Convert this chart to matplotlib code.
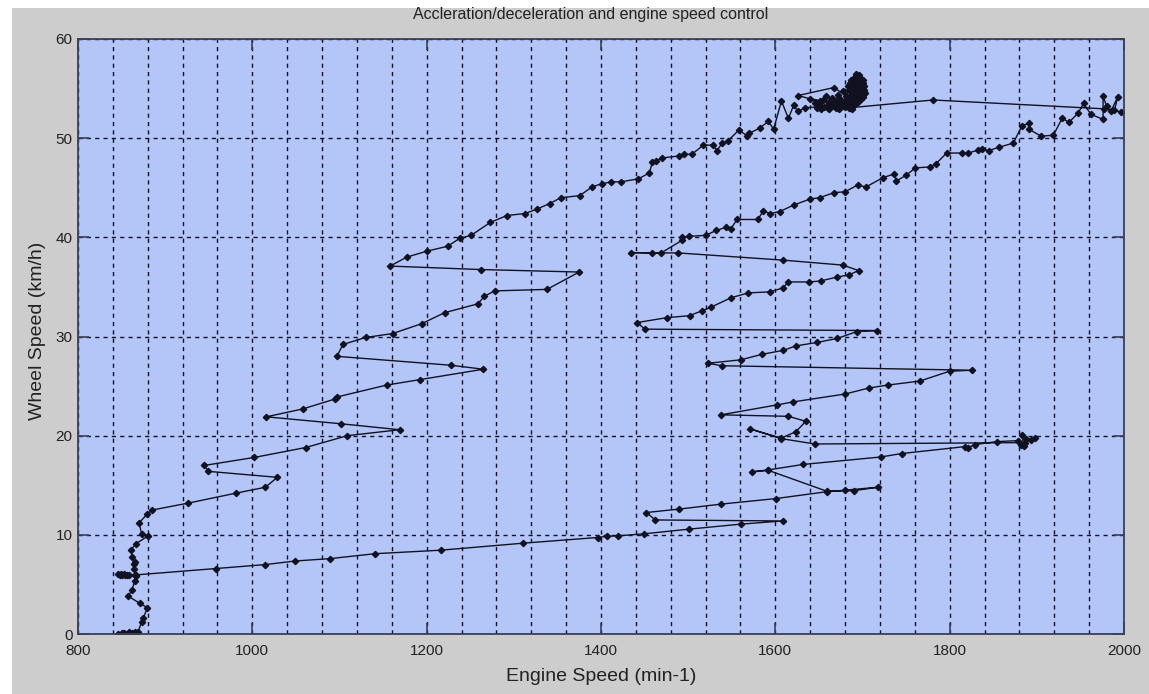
import matplotlib
matplotlib.use("Agg")
import matplotlib.pyplot as plt
from matplotlib.patches import Rectangle
from matplotlib.ticker import MultipleLocator

# launch: idle at standstill, clutch take-up, creep at ~6 km/h
launch_rpm = [846, 850, 853, 856, 859, 862, 865, 868, 869, 873, 875, 879.5, 871, 857.7,
              861.6, 865, 866.5, 858, 854, 851, 848, 846, 849, 853, 856, 865]
launch_kmh = [0.05, 0.1, 0.15, 0.05, 0.2, 0.1, 0.2, 0.15, 0.25, 1.2, 1.6, 2.65, 3.1, 3.8,
              4.4, 5.3, 5.8, 5.95, 5.95, 6.0, 5.95, 6.05, 6.1, 6.05, 6.0, 5.95]

# acceleration through the gears with upshifts
accel_rpm = [958, 1015, 1049, 1089, 1141, 1216, 1311, 1396, 1407, 1420, 1449, 1500.6, 1560.6, 1608.7,
             1462.4, 1452, 1490, 1538, 1601, 1659, 1680, 1717.6, 1690, 1659,
             1592, 1573, 1592, 1632, 1721, 1745, 1818, 1821, 1829, 1854, 1878, 1882, 1885, 1883,
             1888, 1893, 1898, 1886,
             1645.6, 1606.7, 1570.4, 1606.7, 1623.6, 1635, 1615, 1537.5, 1601.8, 1620, 1680, 1707,
             1728.7, 1765.4, 1800, 1825.5,
             1538.7, 1522.6, 1560.5, 1584.5, 1609, 1623.5, 1647.6, 1671, 1693.5, 1716.5,
             1450.7, 1441, 1475.6, 1501.6, 1516, 1526, 1549, 1569, 1594, 1608.6, 1615, 1639, 1652,
             1671, 1684, 1695.5,
             1677.5, 1609, 1488, 1458, 1434, 1469, 1493, 1493, 1501, 1520, 1532.5, 1543, 1548.6,
             1556, 1580, 1586, 1594, 1605, 1621, 1640, 1651, 1667, 1680, 1695, 1703.6, 1723, 1736.5,
             1739, 1750, 1760.5, 1777, 1784, 1796.6, 1814, 1821, 1833, 1837, 1845, 1857, 1873, 1883,
             1891, 1891, 1905, 1919, 1929, 1937, 1947.5, 1953.6, 1962, 1976, 1976, 1980, 1985, 1993,
             1989, 1996, 1977, 1781, 1686]
accel_kmh = [6.6, 7.0, 7.36, 7.6, 8.1, 8.45, 9.16, 9.73, 9.85, 9.9, 10.1, 10.57, 11.08, 11.4,
             11.5, 12.25, 12.6, 13.1, 13.66, 14.35, 14.5, 14.8, 14.45, 14.4,
             16.5, 16.35, 16.55, 17.1, 17.85, 18.2, 18.9, 18.8, 19.1, 19.4, 19.5, 19.1, 18.95, 20.1,
             19.7, 19.6, 19.8, 19.3,
             19.16, 19.7, 20.7, 19.75, 20.4, 21.45, 21.95, 22.1, 23.1, 23.4, 24.2, 24.8,
             25.1, 25.5, 26.5, 26.6,
             27.05, 27.3, 27.65, 28.2, 28.6, 29.05, 29.4, 29.8, 30.5, 30.6,
             30.74, 31.4, 31.9, 32.1, 32.6, 32.95, 33.9, 34.4, 34.5, 34.9, 35.5, 35.5, 35.6,
             36.0, 36.2, 36.65,
             37.2, 37.7, 38.43, 38.43, 38.46, 38.43, 39.7, 40.0, 40.1, 40.2, 40.7, 41.0, 40.8,
             41.8, 41.8, 42.65, 42.4, 42.6, 43.25, 43.87, 44.0, 44.5, 44.6, 45.3, 45.06, 46.0, 46.4,
             45.7, 46.25, 47.0, 47.1, 47.4, 48.5, 48.5, 48.5, 48.8, 48.9, 48.75, 49.1, 49.5, 51.26,
             51.5, 50.9, 50.2, 50.3, 52.0, 51.6, 52.55, 53.5, 52.4, 51.9, 54.26, 53.2, 52.7, 54.2,
             52.8, 52.65, 52.96, 53.85, 53.07]

# cruising around 1690 rpm / 54 km/h
cruise_rpm = [1640, 1650, 1655, 1648, 1660, 1665, 1670, 1662, 1675, 1672, 1680, 1685, 1678, 1688,
              1683, 1690, 1693, 1696, 1699, 1702, 1697, 1692, 1687, 1694, 1700, 1695, 1689, 1685,
              1698, 1691, 1686, 1681, 1667, 1626, 1651, 1676, 1668, 1658, 1652, 1645, 1663, 1673,
              1684, 1690, 1696, 1701, 1693, 1688,
              1692, 1697, 1701, 1699, 1694, 1689, 1686, 1690, 1695, 1700, 1703, 1698, 1693, 1688,
              1684, 1687, 1692, 1696, 1700, 1702, 1697, 1691, 1686, 1683, 1689, 1694, 1699, 1695,
              1690, 1685, 1680, 1676, 1671, 1666, 1661, 1656, 1660, 1668, 1674, 1679, 1684, 1690]
cruise_kmh = [54.0, 53.4, 53.8, 53.0, 53.2, 54.1, 53.0, 52.9, 53.6, 54.4, 53.1, 53.9, 54.8, 54.5,
              55.3, 55.8, 56.5, 56.0, 55.4, 54.9, 54.4, 55.0, 55.9, 55.3, 54.2, 53.8, 53.6, 54.2,
              55.7, 56.2, 55.0, 54.3, 55.1, 54.3, 53.7, 53.2, 53.5, 54.3, 52.9, 53.5, 53.7, 52.9,
              53.0, 54.9, 55.1, 54.6, 54.1, 52.9,
              56.3, 56.1, 55.6, 55.0, 54.7, 55.4, 55.6, 56.0, 55.8, 55.2, 54.6, 54.0, 53.9, 54.6,
              54.9, 55.5, 55.9, 56.4, 55.9, 55.3, 54.8, 54.4, 54.0, 53.8, 54.2, 54.6, 54.3, 53.6,
              53.3, 53.5, 53.7, 53.3, 53.8, 53.4, 53.6, 53.1, 53.0, 53.3, 53.9, 53.5, 53.2, 53.4]

# deceleration with downshifts back to idle
decel_rpm = [1634, 1626, 1621, 1615, 1607, 1598, 1592, 1582, 1570, 1568, 1558, 1546, 1539, 1533,
             1529, 1517.5, 1504, 1495, 1489, 1470, 1463, 1459, 1455.5, 1443, 1423, 1412, 1401, 1390,
             1375.5, 1354, 1341, 1326.5, 1313, 1292, 1273, 1251, 1238, 1224, 1200, 1177, 1158,
             1262.6, 1375, 1338, 1278, 1266, 1259, 1220.5, 1194.5, 1161, 1130, 1104, 1097,
             1228, 1265, 1192.5, 1154, 1097, 1095, 1058, 1016,
             1101.7, 1169, 1109, 1061, 1002, 945,
             949.5, 1028.7, 1015, 981, 926.5, 885, 879.5, 870, 873, 880.6, 866.5, 861, 862, 865,
             864.5, 864, 866]
decel_kmh = [53.07, 52.7, 53.3, 52.0, 53.75, 50.9, 51.7, 51.0, 50.5, 50.24, 50.8, 49.76, 49.5, 48.74,
             49.3, 49.3, 48.36, 48.4, 48.2, 48.0, 47.7, 47.6, 46.5, 45.9, 45.6, 45.6, 45.4, 45.1,
             44.2, 44.0, 43.4, 42.85, 42.4, 42.2, 41.5, 40.2, 39.9, 39.1, 38.6, 38.0, 37.1,
             36.75, 36.5, 34.75, 34.6, 34.05, 33.3, 32.4, 31.3, 30.3, 29.9, 29.2, 28.0,
             27.1, 26.7, 25.65, 25.1, 23.9, 23.7, 22.7, 21.9,
             21.2, 20.6, 20.0, 18.8, 17.8, 17.0,
             16.4, 15.8, 14.8, 14.2, 13.2, 12.5, 12.1, 11.2, 10.1, 9.9, 9.1, 8.5, 7.8, 7.3,
             7.1, 6.6, 6.0]

rpm = launch_rpm + accel_rpm + cruise_rpm + decel_rpm
kmh = launch_kmh + accel_kmh + cruise_kmh + decel_kmh

plt.rcParams['font.family'] = ['Liberation Sans', 'DejaVu Sans']

fig = plt.figure(figsize=(11.49, 6.94), dpi=100, facecolor='white')
# grey window background, thin white strip on the left and top
fig.patches.append(Rectangle((12 / 1149, 0), 1, 1 - 8 / 694, transform=fig.transFigure,
                             facecolor='#cdcdcd', edgecolor='none', zorder=-10))

ax = fig.add_axes([78 / 1149, 60 / 694, 1046 / 1149, 595 / 694])
ax.set_facecolor('#b3c6f7')

ax.plot(rpm, kmh, color='#111122', linewidth=1.0, marker='D', markersize=3.2,
        markerfacecolor='#111122', markeredgecolor='#111122')

ax.set_xlim(800, 2000)
ax.set_ylim(0, 60)
ax.xaxis.set_major_locator(MultipleLocator(200))
ax.xaxis.set_minor_locator(MultipleLocator(40))
ax.yaxis.set_major_locator(MultipleLocator(10))

ax.grid(which='both', axis='x', color='#10102a', linestyle=(0, (3, 3)), linewidth=1.0)
ax.grid(which='major', axis='y', color='#10102a', linestyle=(0, (3, 3)), linewidth=1.0)
ax.set_axisbelow(True)

ax.tick_params(which='major', direction='in', length=8, width=1.2, color='#3a4058',
               top=True, right=True, labelsize=11, labelcolor='#222222')
ax.tick_params(axis='x', which='major', pad=7)
ax.tick_params(axis='y', which='major', pad=4)
ax.tick_params(which='minor', length=0)
for s in ax.spines.values():
    s.set_color('#3a4058')
    s.set_linewidth(1.3)

ax.set_xlabel('Engine Speed (min-1)', fontsize=14, color='#222222')
ax.set_ylabel('Wheel Speed (km/h)', fontsize=14, color='#222222')
ax.xaxis.set_label_coords(0.5, -0.057)
ax.yaxis.set_label_coords(-0.0306, 0.51)
ax.text(0.49, 1.042, 'Accleration/deceleration and engine speed control', transform=ax.transAxes,
        ha='center', va='center', fontsize=11.5, color='#222222')

fig.savefig('out.png', dpi=100, facecolor=fig.get_facecolor())
